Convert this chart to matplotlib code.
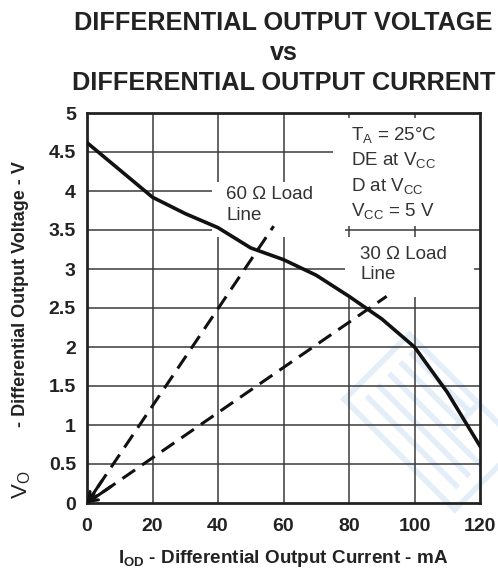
import matplotlib
matplotlib.use("Agg")
import matplotlib.pyplot as plt
from matplotlib.lines import Line2D
import numpy as np

plt.rcParams['font.family'] = ['Liberation Sans', 'DejaVu Sans']
plt.rcParams['mathtext.fontset'] = 'custom'
plt.rcParams['mathtext.rm'] = 'Liberation Sans'
plt.rcParams['mathtext.it'] = 'Liberation Sans:italic'
plt.rcParams['mathtext.bf'] = 'Liberation Sans:bold'

# ---- data ----
current_mA = [0, 10, 20, 30, 40, 50, 60, 70, 80, 90, 100, 110, 120]
voltage_V = [4.62, 4.27, 3.92, 3.71, 3.53, 3.27, 3.12, 2.92, 2.65, 2.36, 2.0, 1.42, 0.73]

load60_I = [0, 57]
load60_V = [0, 3.55]
load30_I = [0, 91.5]
load30_V = [0, 2.65]

x_ticks = [0, 20, 40, 60, 80, 100, 120]
y_ticks = [0, 0.5, 1, 1.5, 2, 2.5, 3, 3.5, 4, 4.5, 5]
y_ticklabels = ['0', '0.5', '1', '1.5', '2', '2.5', '3', '3.5', '4', '4.5', '5']

title = "DIFFERENTIAL OUTPUT VOLTAGE\nvs\nDIFFERENTIAL OUTPUT CURRENT"
xlabel = r"$\mathregular{I_{OD}}$ - Differential Output Current - mA"
ylabel_sym = r"$\mathregular{V_O}$"
ylabel_txt = "- Differential Output Voltage - V"
cond_lines = [r"$\mathregular{T_A}$ = 25°C", r"DE at $\mathregular{V_{CC}}$",
              r"D at $\mathregular{V_{CC}}$", r"$\mathregular{V_{CC}}$ = 5 V"]

# regions (data coords) where grid lines are interrupted by labels
blocks = [(75.1, 120, 3.55, 4.94), (78.8, 118.2, 2.64, 3.41), (38.2, 78.8, 3.41, 4.12)]

W, H = 498, 571
fig = plt.figure(figsize=(W/100, H/100), dpi=100)

# faint watermark logo (decorative), in figure pixel space
def px(x, y):
    return x / W, 1 - y / H
wm_col = '#e3eef9'
cx, cy = 432, 422
du = np.array([1, 1]) / np.sqrt(2)   # down-right
dv = np.array([1, -1]) / np.sqrt(2)  # up-right
def pt(u, v):
    p = np.array([cx, cy]) + u * du + v * dv
    return px(p[0], p[1])
outline = [(-78, -46), (78, -46), (78, 46), (-78, 46), (-78, -46)]
xs, ys = zip(*[pt(u, v) for u, v in outline])
fig.add_artist(Line2D(xs, ys, color=wm_col, lw=4, zorder=0, solid_joinstyle='miter'))
for v in (-28, -12, 4, 20, 34):
    u0, u1 = (-62, 62) if v not in (20, 34) else (-62, 20)
    xs, ys = zip(pt(u0, v), pt(u1, v))
    fig.add_artist(Line2D(xs, ys, color=wm_col, lw=4, zorder=0))
xs, ys = zip(pt(20, 12), pt(20, 40))
fig.add_artist(Line2D(xs, ys, color=wm_col, lw=4, zorder=0))

ax = fig.add_axes([87/W, 68/H, 393/W, 390/H])
ax.patch.set_alpha(0)
ax.set_xlim(0, 120)
ax.set_ylim(0, 5)

def subtract(lo, hi, gaps):
    segs = [(lo, hi)]
    for g0, g1 in gaps:
        new = []
        for s0, s1 in segs:
            if g1 <= s0 or g0 >= s1:
                new.append((s0, s1))
            else:
                if g0 > s0:
                    new.append((s0, g0))
                if g1 < s1:
                    new.append((g1, s1))
        segs = new
    return segs

gcol = '#3a3a3a'
for v in y_ticks[1:-1]:
    gaps = [(b[0], b[1]) for b in blocks if b[2] < v < b[3]]
    for s0, s1 in subtract(0, 120, gaps):
        ax.plot([s0, s1], [v, v], color=gcol, lw=1.1, zorder=1, solid_capstyle='butt')
for x in x_ticks[1:-1]:
    gaps = [(b[2], b[3]) for b in blocks if b[0] < x < b[1]]
    for s0, s1 in subtract(0, 5, gaps):
        ax.plot([x, x], [s0, s1], color=gcol, lw=1.1, zorder=1, solid_capstyle='butt')

ax.plot(current_mA, voltage_V, color='#111111', lw=2.6, zorder=4, solid_joinstyle='round')

for I, V in ((load60_I, load60_V), (load30_I, load30_V)):
    ax.plot(I, V, color='#111111', lw=2.2, linestyle=(1.5, (5, 2.8)), zorder=3)
    frac = 0.08
    ax.annotate('', xy=(I[0], V[0]), xytext=(I[1]*frac, V[1]*frac),
                arrowprops=dict(arrowstyle='->', lw=2.2, color='#111111',
                                mutation_scale=14, shrinkA=0, shrinkB=0),
                zorder=3)

for s in ax.spines.values():
    s.set_linewidth(2.0)
    s.set_color('#222222')

ax.set_xticks(x_ticks)
ax.set_yticks(y_ticks)
ax.set_yticklabels(y_ticklabels)
ax.tick_params(length=0, labelsize=14, colors='#222222')
for lab in ax.get_xticklabels() + ax.get_yticklabels():
    lab.set_fontweight('bold')
ax.tick_params(axis='y', pad=8)
ax.tick_params(axis='x', pad=11)

ax.set_xlabel(xlabel, fontsize=13.6, fontweight='bold', color='#222222', labelpad=9)

fig.text(21/W, 1 - 294/H, ylabel_txt, rotation=90, ha='center', va='center',
         fontsize=13, fontweight='bold', color='#222222')
fig.text(22/W, 1 - 485/H, ylabel_sym, rotation=90, ha='center', va='center',
         fontsize=16, color='#222222')

fig.text((87+480)/2/W, 1 - 53/H, title, ha='center', va='center',
         fontsize=18.2, fontweight='bold', color='#222222', linespacing=1.3)

for i, t in enumerate(cond_lines):
    ax.text(80.7, 4.72 - i*0.325, t, fontsize=13.5, color='#333333', va='center', ha='left')

ax.text(42.5, 3.96, "60 Ω Load", fontsize=13.5, color='#333333', va='center')
ax.text(42.5, 3.69, "Line", fontsize=13.5, color='#333333', va='center')
ax.text(83.5, 3.19, "30 Ω Load", fontsize=13.5, color='#333333', va='center')
ax.text(83.5, 2.93, "Line", fontsize=13.5, color='#333333', va='center')

fig.savefig("out.png", dpi=100)
